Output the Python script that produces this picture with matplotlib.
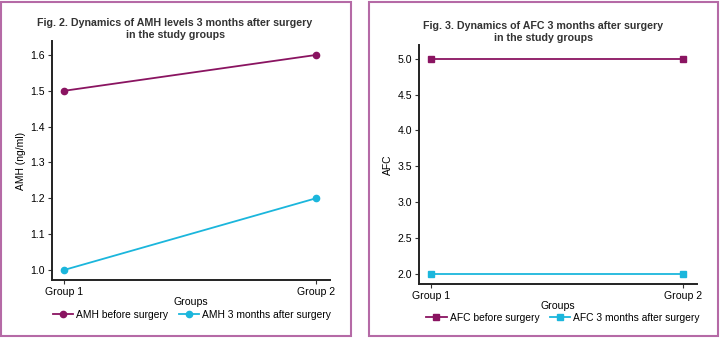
import matplotlib.pyplot as plt
from matplotlib.patches import Rectangle

plt.rcParams['font.family'] = ['Liberation Sans', 'DejaVu Sans']

groups = ['Group 1', 'Group 2']
amh_before = [1.5, 1.6]
amh_after = [1.0, 1.2]
afc_before = [5.0, 5.0]
afc_after = [2.0, 2.0]

amh_ticks = [1.0, 1.1, 1.2, 1.3, 1.4, 1.5, 1.6]
afc_ticks = [2.0, 2.5, 3.0, 3.5, 4.0, 4.5, 5.0]

MAG = '#8a1461'
CYAN = '#1bb6dc'
BORDER = '#b56aa6'

W, H = 720, 338
fig = plt.figure(figsize=(7.2, 3.38), dpi=100)


def px_axes(x0, x1, top, bottom):
    return fig.add_axes([x0 / W, (H - bottom) / H, (x1 - x0) / W, (bottom - top) / H])


def frame(x0, x1, top, bottom):
    fig.patches.append(Rectangle((x0 / W, (H - bottom) / H), (x1 - x0) / W, (bottom - top) / H,
                                 transform=fig.transFigure, fill=False,
                                 edgecolor=BORDER, linewidth=1.5))


frame(1, 351, 2, 336)
frame(369, 718, 2, 336)


def style(ax, ticks, ylim, fmt):
    ax.set_xlim(-0.048, 1.056)
    ax.set_ylim(*ylim)
    ax.set_xticks([0, 1])
    ax.set_xticklabels(groups, fontsize=7.6)
    ax.set_yticks(ticks)
    ax.set_yticklabels([fmt % t for t in ticks], fontsize=7.6)
    for s in ['top', 'right']:
        ax.spines[s].set_visible(False)
    for s in ['left', 'bottom']:
        ax.spines[s].set_linewidth(1.4)
        ax.spines[s].set_color('#222222')
    ax.tick_params(axis='both', length=3, width=0.8, color='#333333', pad=2)
    ax.set_xlabel('Groups', fontsize=7.6, labelpad=0)
    ax.set_facecolor('none')


x = [0, 1]

# Fig. 2
ax = px_axes(52, 330, 41, 280)
ax.plot(x, amh_before, color=MAG, marker='o', ms=4.5, lw=1.3, label='AMH before surgery')
ax.plot(x, amh_after, color=CYAN, marker='o', ms=4.5, lw=1.3, label='AMH 3 months after surgery')
style(ax, amh_ticks, (0.972, 1.639), '%.1f')
ax.set_ylabel('AMH (ng/ml)', fontsize=7.4, labelpad=3)
fig.text(175 / W, 1 - 29 / H, 'Fig. 2. Dynamics of AMH levels 3 months after surgery\nin the study groups',
         ha='center', va='center', fontsize=7.7, fontweight='bold', color='#333333', linespacing=1.25)
ax.legend(loc='center', bbox_to_anchor=(192 / W, 1 - 315 / H), bbox_transform=fig.transFigure,
          ncol=2, frameon=False, fontsize=7.4, handlelength=2.0, handletextpad=0.3, columnspacing=1.0)

# Fig. 3
ax = px_axes(419, 697, 45, 284)
ax.plot(x, afc_before, color=MAG, marker='s', ms=4.5, lw=1.3, label='AFC before surgery')
ax.plot(x, afc_after, color=CYAN, marker='s', ms=4.5, lw=1.3, label='AFC 3 months after surgery')
style(ax, afc_ticks, (1.86, 5.19), '%.1f')
ax.set_ylabel('AFC', fontsize=7.4, labelpad=3)
fig.text(543 / W, 1 - 32 / H, 'Fig. 3. Dynamics of AFC 3 months after surgery\nin the study groups',
         ha='center', va='center', fontsize=7.7, fontweight='bold', color='#333333', linespacing=1.25)
ax.legend(loc='center', bbox_to_anchor=(563 / W, 1 - 318 / H), bbox_transform=fig.transFigure,
          ncol=2, frameon=False, fontsize=7.4, handlelength=2.0, handletextpad=0.3, columnspacing=1.0)

fig.savefig('out.png', dpi=100)
